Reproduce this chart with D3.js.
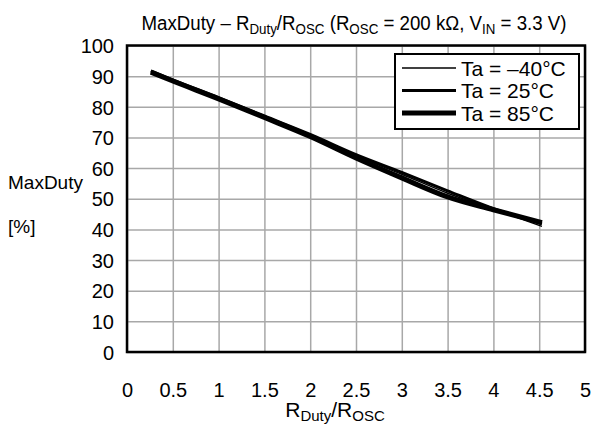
<!DOCTYPE html>
<html>
<head>
<meta charset="utf-8">
<script src="https://cdnjs.cloudflare.com/ajax/libs/d3/7.8.5/d3.min.js"></script>
<style>
  body { margin: 0; background: #fff; }
  svg { display: block; font-family: "Liberation Sans", Arial, sans-serif; }
</style>
</head>
<body>
<script>
// data
var ratio = [0.26, 0.5, 1, 1.5, 2, 2.5, 3, 3.5, 4, 4.53];
var dutyM40 = [91.5, 88.6, 82.8, 76.8, 70.7, 64.0, 58.0, 51.8, 46.6, 41.0];
var duty25 = [91.7, 88.8, 83.0, 77.0, 71.0, 64.4, 58.6, 52.6, 46.8, 41.8];
var duty85 = [91.3, 88.4, 82.6, 76.5, 70.3, 63.3, 56.8, 50.6, 46.4, 42.2];
var seriesNames = ['Ta = \u201340\u00b0C', 'Ta = 25\u00b0C', 'Ta = 85\u00b0C'];
var xTicks = [0, 0.5, 1, 1.5, 2, 2.5, 3, 3.5, 4, 4.5, 5];
var yTicks = [0, 10, 20, 30, 40, 50, 60, 70, 80, 90, 100];

var series = [
  {name: seriesNames[0], values: dutyM40, w: 1.4},
  {name: seriesNames[1], values: duty25, w: 3},
  {name: seriesNames[2], values: duty85, w: 5}
];

// graph dimensions
var margin = {top: 45.5, right: 10, bottom: 79, left: 127},
    width = 595 - margin.left - margin.right,
    height = 431 - margin.top - margin.bottom;

var x = d3.scaleLinear().domain([0, 5]).range([0, width]);
var y = d3.scaleLinear().domain([0, 100]).range([height, 0]);

var svg = d3.select('body').append('svg')
    .attr('width', 595)
    .attr('height', 431);

var g = svg.append('g')
    .attr('transform', 'translate(' + margin.left + ',' + margin.top + ')');

// x axis with grid
var xAxis = d3.axisBottom(x).tickValues(xTicks)
    .tickFormat(function(d) { return d; })
    .tickSizeInner(-height).tickSizeOuter(0).tickPadding(31);
var gx = g.append('g')
    .attr('transform', 'translate(0,' + height + ')')
    .call(xAxis);

// y axis with grid
var yAxis = d3.axisLeft(y).tickValues(yTicks)
    .tickSizeInner(-width).tickSizeOuter(0).tickPadding(13);
var gy = g.append('g').call(yAxis);

[gx, gy].forEach(function(a) {
  a.select('.domain').remove();
  a.selectAll('.tick line').attr('stroke', '#a8a8a8').attr('stroke-width', 1.5);
  a.selectAll('.tick text').attr('font-size', 20).attr('fill', '#000')
    .attr('font-family', '"Liberation Sans", Arial, sans-serif');
});
gy.selectAll('.tick text').attr('dy', '0.36em');

// frame
g.append('rect')
    .attr('width', width).attr('height', height)
    .attr('fill', 'none').attr('stroke', '#000').attr('stroke-width', 2.5);

// lines
var line = d3.line()
    .x(function(d, i) { return x(ratio[i]); })
    .y(function(d) { return y(d); })
    .curve(d3.curveMonotoneX);

g.selectAll('.series')
    .data(series)
  .enter().append('path')
    .attr('class', 'series')
    .attr('d', function(d) { return line(d.values); })
    .attr('fill', 'none')
    .attr('stroke', '#000')
    .attr('stroke-width', function(d) { return d.w; });

// legend
var lg = svg.append('g').attr('transform', 'translate(395,54)');
lg.append('rect').attr('width', 184).attr('height', 75)
    .attr('fill', '#fff').attr('stroke', '#000').attr('stroke-width', 2);
series.forEach(function(s, i) {
  var yy = 14 + i * 22.5;
  lg.append('line').attr('x1', 7).attr('x2', 61).attr('y1', yy).attr('y2', yy)
      .attr('stroke', '#000').attr('stroke-width', s.w);
  lg.append('text').attr('x', 66).attr('y', yy + 7.5)
      .attr('font-size', 21).text(s.name);
});

// title (condensed like the original)
var title = svg.append('text')
    .attr('transform', 'translate(354,29.5) scale(0.89,1)')
    .attr('text-anchor', 'middle')
    .attr('font-size', 21);
title.append('tspan').text('MaxDuty \u2013 R');
title.append('tspan').attr('font-size', 15).attr('dy', 4).text('Duty');
title.append('tspan').attr('dy', -4).text('/R');
title.append('tspan').attr('font-size', 15).attr('dy', 4).text('OSC');
title.append('tspan').attr('dy', -4).text(' (R');
title.append('tspan').attr('font-size', 15).attr('dy', 4).text('OSC');
title.append('tspan').attr('dy', -4).text(' = 200 k\u03a9, V');
title.append('tspan').attr('font-size', 15).attr('dy', 4).text('IN');
title.append('tspan').attr('dy', -4).text(' = 3.3 V)');

// x axis title
var xt = svg.append('text')
    .attr('x', 335).attr('y', 417)
    .attr('text-anchor', 'middle')
    .attr('font-size', 21);
xt.append('tspan').text('R');
xt.append('tspan').attr('font-size', 15).attr('dy', 4).text('Duty');
xt.append('tspan').attr('dy', -4).text('/R');
xt.append('tspan').attr('font-size', 15).attr('dy', 4).text('OSC');

// y axis title
svg.append('text').attr('x', 8).attr('y', 189).attr('font-size', 19).text('MaxDuty');
svg.append('text').attr('x', 8).attr('y', 233).attr('font-size', 19).text('[%]');
</script>
</body>
</html>
